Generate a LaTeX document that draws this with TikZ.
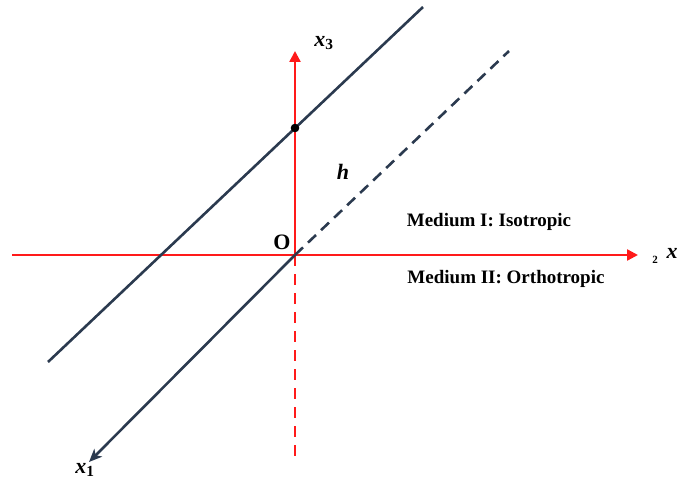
\documentclass[tikz,border=0pt]{standalone}
\usepackage{fontspec}
\setmainfont{Liberation Serif}
\usetikzlibrary{arrows.meta}
\definecolor{navy}{HTML}{2B3A4F}
\definecolor{axred}{HTML}{FF1A1A}
\tikzset{
  redaxis/.style={draw=axred, line width=2.4pt},
  navyline/.style={draw=navy, line width=2.6pt},
  redtip/.style={-{Triangle[length=11pt,width=11pt]}},
  navytip/.style={-{Stealth[length=13pt,width=11pt,inset=3.5pt]}},
  medium/.style={font=\fontsize{19}{22}\selectfont\bfseries, inner sep=0pt},
  axlabel/.style={font=\fontsize{22}{24}\selectfont\bfseries\itshape, inner sep=0pt},
}
\begin{document}
\begin{tikzpicture}[x=1pt,y=-1pt]
\useasboundingbox (0,0) rectangle (691,487);
\coordinate (O) at (295,255);
\coordinate (hleft) at (12,255);
\coordinate (hright) at (638,255);
\coordinate (vtop) at (295,51);
\coordinate (vbot) at (295,461);
\coordinate (x1end) at (89,462);
\coordinate (dashend) at (509,51);
\coordinate (upA) at (48,362);
\coordinate (upB) at (423,7);
\coordinate (P) at (295,128);
% red axes
\draw[redaxis, redtip] (hleft) -- (hright);
\draw[redaxis, redtip] (O) -- (vtop);
\draw[redaxis, dash pattern=on 11pt off 8pt] (O) -- (vbot);
% navy lines
\draw[navyline, navytip] (O) -- (x1end);
\draw[navyline, dash pattern=on 11pt off 7pt] (O) -- (dashend);
\draw[navyline] (upA) -- (upB);
\fill[black] (P) circle (4.3pt);
% labels
\node[font=\fontsize{22}{24}\selectfont\bfseries, inner sep=0pt] (Olab) at (282,242) {O};
\node[axlabel] (hlab) at (343,172) {h};
\node[axlabel] (x3lab) at (324,43) {x\textsubscript{\upshape 3}};
\node[axlabel] (x1lab) at (85,470) {x\textsubscript{\upshape 1}};
\node[font=\fontsize{11}{12}\selectfont\bfseries, inner sep=0pt] (x2sub) at (655,260) {2};
\node[axlabel] (x2lab) at (672,253) {x};
\node[medium] (m1) at (489,222) {Medium I: Isotropic};
\node[medium] (m2) at (506,279) {Medium II: Orthotropic};
\end{tikzpicture}
\end{document}
